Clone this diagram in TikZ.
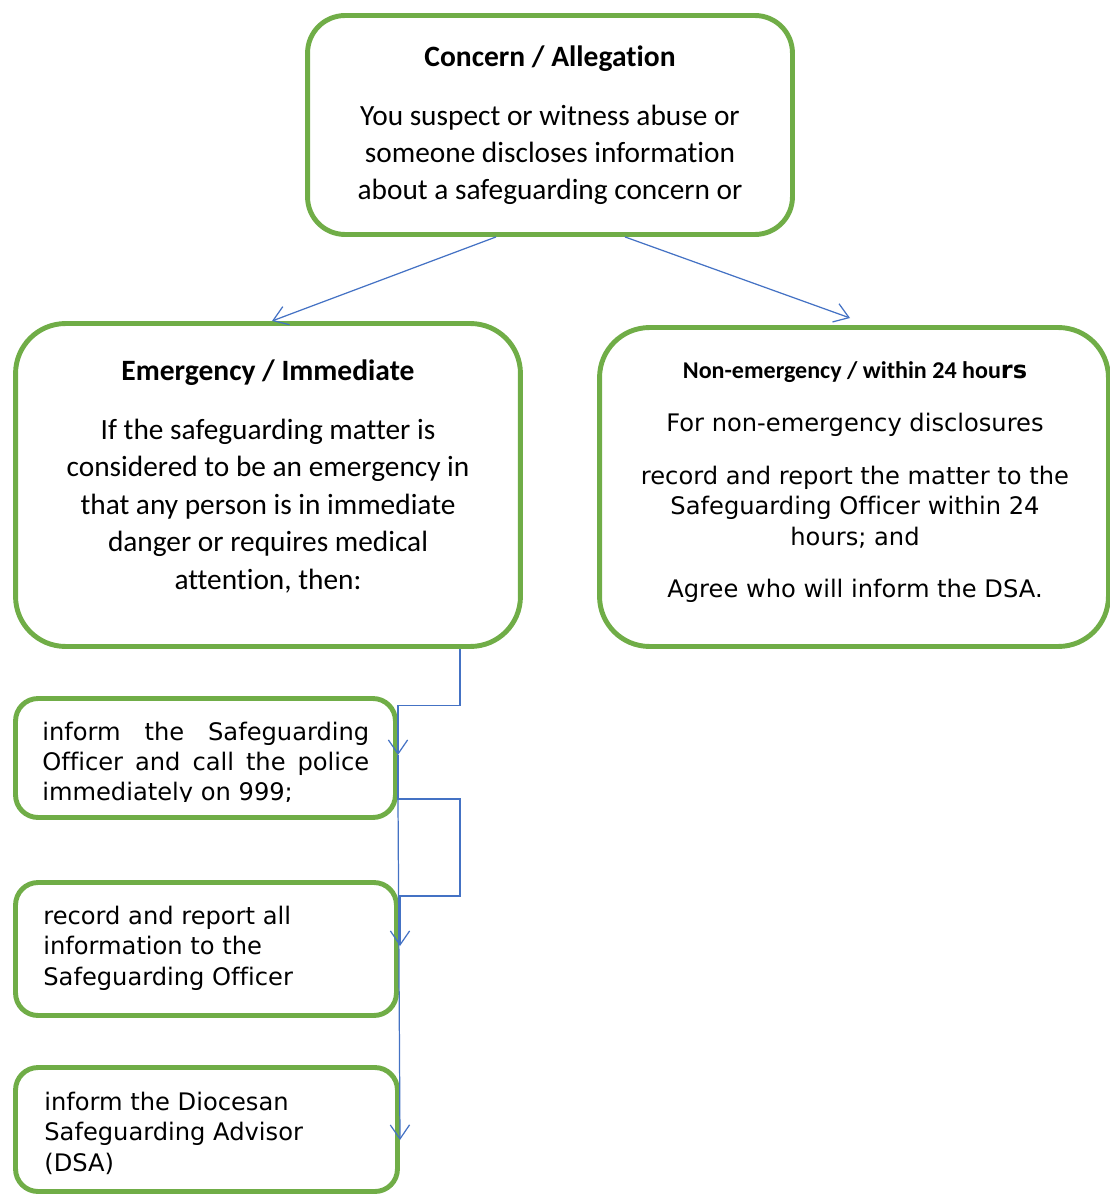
\documentclass[tikz,border=0pt]{standalone}
\usepackage{fontspec}
\setmainfont{Carlito}[Ligatures=CommonOff]
\newfontfamily\verdfont{DejaVu Sans}[Ligatures=CommonOff]
\usepackage{tikz}
\usetikzlibrary{positioning, arrows.meta, calc}
\definecolor{guardGreen}{HTML}{70AD47}
\definecolor{guardBlue}{HTML}{4472C4}

\begin{document}
\begin{tikzpicture}[x=0.02cm, y=-0.02cm,
    greenbox/.style={draw=guardGreen, line width=2.8pt, inner sep=0pt},
    flow/.style={guardBlue, line width=0.7pt, -{Straight Barb[length=8pt,width=11pt]}},
    calibri/.style={font=\fontsize{16.7}{21.3}\selectfont, align=center, anchor=base, inner sep=0pt},
    calhead/.style={font=\fontsize{16.8}{20}\selectfont\bfseries, anchor=base, inner sep=0pt},
    verd/.style={font=\verdfont\fontsize{13.75}{17.3}\selectfont, anchor=base, inner sep=0pt}]
  \useasboundingbox (0,0) rectangle (1109,1196);

  % the six boxes
  \node[greenbox, rounded corners=0.75cm, minimum width=9.7cm, minimum height=4.38cm]
    (concern) at (550,125) {};
  \node[greenbox, rounded corners=1cm, minimum width=10.1cm, minimum height=6.46cm]
    (emerg) at (268,485) {};
  \node[greenbox, rounded corners=1cm, minimum width=10.18cm, minimum height=6.38cm]
    (nonemerg) at (854,487) {};
  \node[greenbox, rounded corners=0.45cm, minimum width=7.6cm, minimum height=2.38cm]
    (inform) at (205.5,758) {};
  \node[greenbox, rounded corners=0.45cm, minimum width=7.62cm, minimum height=2.66cm]
    (record) at (206,949) {};
  \node[greenbox, rounded corners=0.45cm, minimum width=7.64cm, minimum height=2.48cm]
    (dsa) at (206.5,1129.5) {};

  % texts (multi-line nodes sit on the baseline of their last line)
  \node[calhead] (concernHead) at (550,67) {Concern / Allegation};
  \node[calibri] (concernText) at (550,200)
    {You suspect or witness abuse or\\someone discloses information\\about a safeguarding concern or};
  \node[calhead] (emergHead) at (268,380) {Emergency / Immediate};
  \node[calibri] (emergText) at (268,589)
    {If the safeguarding matter is\\considered to be an emergency in\\that any person is in immediate\\danger or requires medical\\attention, then:};
  \node[calhead, font=\fontsize{13.7}{17}\selectfont\bfseries] (nonHead) at (855,378)
    {Non-emergency / within 24 hou{\verdfont rs}};
  \node[verd, align=center] (nonText) at (855,431) {For non-emergency disclosures};
  \node[verd, align=center] (nonRecord) at (855,545)
    {record and report the matter to the\\Safeguarding Officer within 24\\hours; and};
  \node[verd] (nonAgree) at (855,597) {Agree who will inform the DSA.};
  \begin{scope}
    \clip (15,700) rectangle (396,801);
    \node[verd, anchor=base west, text width=6.54cm, align=justify] (informText) at (42,740)
      {\hyphenpenalty=10000 \tolerance=10000 inform the Safeguarding Officer and call the police immediately on 999;};
  \end{scope}
  \node[verd, anchor=base west, align=left] (recordText) at (43,985)
    {record and report all\\information to the\\Safeguarding Officer};
  \node[verd, anchor=base west, align=left] (dsaText) at (44,1171)
    {inform the Diocesan\\Safeguarding Advisor\\(DSA)};

  % connectors
  \coordinate (leftTip) at (272,321);
  \coordinate (rightTip) at (850,318);
  \coordinate (tap) at ([xshift=3.84cm]emerg.south);
  \coordinate (informTip) at (398,755);
  \coordinate (recordTip) at (400,946);
  \coordinate (dsaTip) at (400,1140);
  \draw[flow] ([xshift=-1.08cm]concern.south) -- (leftTip);
  \draw[flow] ([xshift=1.5cm]concern.south) -- (rightTip);
  \draw[flow] (tap) -- ++(0,56.5) -| (informTip);
  \draw[flow] (informTip) -- ++(0,44) -- ++(62,0) -- ++(0,97) -| (recordTip);
  \draw[flow] ([yshift=-0.88cm]informTip) -- (dsaTip);
\end{tikzpicture}
\end{document}
